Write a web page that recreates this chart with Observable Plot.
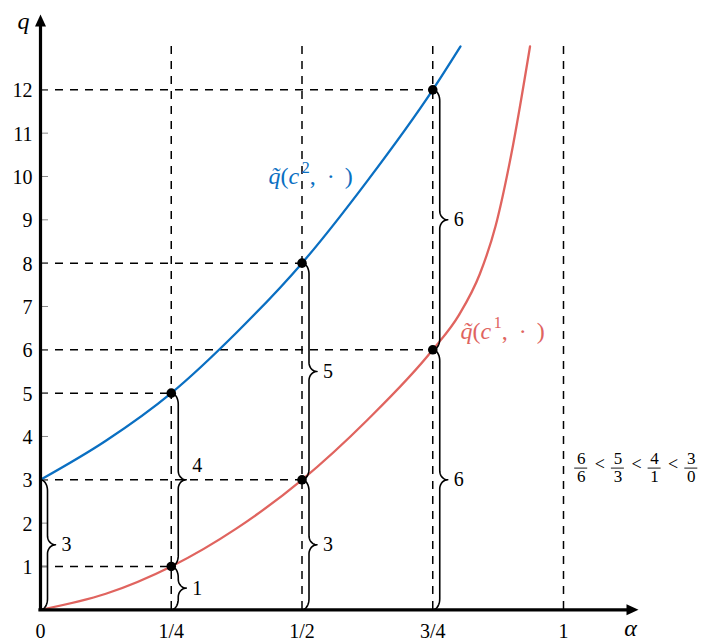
<!DOCTYPE html>
<html>
<head>
<meta charset="utf-8">
<script src="https://cdn.jsdelivr.net/npm/d3@7"></script>
<script src="https://cdn.jsdelivr.net/npm/@observablehq/plot@0.6"></script>
<style>
  html, body { margin: 0; padding: 0; background: #fff; }
  #chart svg { display: block; }
  #chart svg, #chart svg text, #chart svg tspan { font-family: "Liberation Serif" !important; }
</style>
</head>
<body>
<div id="chart"></div>
<script>
// ---------------- data ----------------
const alphaTicks = [0, 0.25, 0.5, 0.75, 1];
const alphaTickLabels = ["0", "1/4", "1/2", "3/4", "1"];
const qTicks = [1, 2, 3, 4, 5, 6, 7, 8, 9, 10, 11, 12];

// q~(c^1, .)  (red)
const redAlpha = [0, 0.125, 0.25, 0.375, 0.5, 0.625, 0.75, 0.8, 0.84, 0.87, 0.9, 0.936];
const redQ     = [0, 0.37, 1, 1.88, 3, 4.38, 6, 6.8, 7.75, 8.85, 10.5, 13];

// q~(c^2, .)  (blue)
const blueAlpha = [0, 0.125, 0.25, 0.375, 0.5, 0.625, 0.75, 0.803];
const blueQ     = [3, 3.9, 5, 6.4, 8, 9.9, 12, 13];

// marked points
const pointAlpha = [0.25, 0.25, 0.5, 0.5, 0.75, 0.75];
const pointQ     = [1, 5, 3, 8, 6, 12];

// vertical guides
const guideAlpha = [0.25, 0.5, 0.75, 1];

// braces
const braceAlpha  = [0, 0.25, 0.25, 0.5, 0.5, 0.75, 0.75];
const braceFrom   = [0, 0, 1, 0, 3, 0, 6];
const braceTo     = [3, 1, 5, 3, 8, 6, 12];
const braceLabels = ["3", "1", "4", "3", "5", "6", "6"];

// curve labels
const curveNames = ["c2", "c1"];
const curveSup   = ["2", "1"];

// inequality 6/6 < 5/3 < 4/1 < 3/0
const fracNum = ["6", "5", "4", "3"];
const fracDen = ["6", "3", "1", "0"];

// ---------------- layout ----------------
const W = 706, H = 643;
const mL = 40, mR = 143, mT = 46, mB = 33.7;
const xMax = 1, yMax = 13;
const PX = (W - mL - mR) / xMax;       // px per alpha unit
const PY = (H - mT - mB) / yMax;       // px per q unit
const ox = px => px / PX;              // pixel offset -> alpha units
const oy = px => px / PY;              // pixel offset -> q units

const BLUE = "#0a6fc2";
const RED = "#e0645f";
const FONT = "Liberation Serif";

const yTip = yMax + oy(32);
const xTip = xMax + ox(75);

const red = redAlpha.map((a, i) => ({a, q: redQ[i]}));
const blue = blueAlpha.map((a, i) => ({a, q: blueQ[i]}));
const points = pointAlpha.map((a, i) => ({a, q: pointQ[i]}));
const braces = braceAlpha.map((a, i) => ({a, q0: braceFrom[i], q1: braceTo[i], label: braceLabels[i], id: i}));

// brace geometry (pixel shape mapped into data units)
const TIP = 15, STEM = 7;
function bracePoints(b) {
  const h = (b.q1 - b.q0) * PY;
  const r = Math.min(11, h / 4), r2 = Math.min(9, h / 4), mid = h / 2;
  const N = 12, half = [];
  for (let i = 0; i <= N; i++) {
    const t = i / N * Math.PI / 2;
    half.push([STEM * Math.sin(t), r * (1 - Math.cos(t))]);
  }
  for (let i = 0; i <= N; i++) {
    const t = i / N * Math.PI / 2;
    half.push([STEM + (TIP - STEM) * (1 - Math.cos(t)), mid - r2 + r2 * Math.sin(t)]);
  }
  const upper = half.slice(0, -1).reverse().map(([v, u]) => [v, h - u]);
  return half.concat(upper).map(([v, u]) => ({x: b.a + ox(v), y: b.q0 + oy(u), id: b.id}));
}
const braceLines = braces.flatMap(bracePoints);
// a brace label is lifted when a horizontal guide runs through its tip
const braceLabelQ = b => {
  const m = (b.q0 + b.q1) / 2;
  const crossed = points.some(p => p.q === m && p.a > b.a);
  return m + (crossed ? oy(14) : 0);
};

// custom filled arrowheads
const arrowUp = {draw(ctx) { ctx.moveTo(0, 0); ctx.lineTo(5.5, 12); ctx.lineTo(-5.5, 12); ctx.closePath(); }};
const arrowRight = {draw(ctx) { ctx.moveTo(0, 0); ctx.lineTo(-12, 5.5); ctx.lineTo(-12, -5.5); ctx.closePath(); }};

// curve label anchors
const curveLabels = [
  {a: ox(268 - mL), q: oy(H - mB - 183), color: BLUE, sup: curveSup[0], name: curveNames[0]},
  {a: ox(460 - mL), q: oy(H - mB - 338), color: RED, sup: curveSup[1], name: curveNames[1]}
];
const labelText = d => `q\u0303(c${d.sup}, \u00b7 )`;

// fractions
const fracBarQ = 3.27;
const fracs = fracNum.map((n, i) => ({a: xMax + ox(17.7 + 36.7 * i), num: n, den: fracDen[i]}));
const lts = [0, 1, 2].map(i => ({a: xMax + ox(36.3 + 36.7 * i)}));

const T = {fontFamily: FONT};

const svg = Plot.plot({
  width: W, height: H,
  marginLeft: mL, marginRight: mR, marginTop: mT, marginBottom: mB,
  x: {domain: [0, xMax], axis: null},
  y: {domain: [0, yMax], axis: null},
  style: {background: "#fff", color: "#000", overflow: "visible", fontFamily: FONT},
  marks: [
    // dashed guides
    Plot.ruleX(guideAlpha, {x: d => d, y1: yMax, y2: 0, stroke: "#000", strokeWidth: 1.5, strokeDasharray: "8,7"}),
    Plot.ruleY(points, {y: "q", x1: 0, x2: "a", stroke: "#000", strokeWidth: 1.5, strokeDasharray: "8,7"}),
    // y ticks
    Plot.ruleY(qTicks, {y: d => d, x1: 0, x2: ox(8), stroke: "#8a8a8a", strokeWidth: 1}),
    Plot.text(qTicks, {...T, x: 0, y: d => d, text: d => String(d), textAnchor: "end", dx: -8, dy: 1, fontSize: 20, lineAnchor: "middle"}),
    // x tick labels
    Plot.text(alphaTicks, {...T, x: d => d, y: 0, text: (d, i) => alphaTickLabels[i], dy: 28, fontSize: 20, lineAnchor: "bottom"}),
    // curves
    Plot.line(red, {x: "a", y: "q", stroke: RED, strokeWidth: 2.3, curve: "monotone-x"}),
    Plot.line(blue, {x: "a", y: "q", stroke: BLUE, strokeWidth: 2.3, curve: "monotone-x"}),
    // braces
    Plot.line(braceLines, {x: "x", y: "y", z: "id", stroke: "#000", strokeWidth: 1.6, curve: "linear"}),
    Plot.text(braces, {...T, x: d => d.a + ox(TIP + 6), y: braceLabelQ, text: "label", textAnchor: "start", fontSize: 20, lineAnchor: "middle"}),
    // axes
    Plot.ruleX([0], {y1: -oy(1.6), y2: yTip - oy(6), stroke: "#000", strokeWidth: 3.2}),
    Plot.ruleY([0], {x1: -ox(1.6), x2: xTip - ox(6), stroke: "#000", strokeWidth: 3.2}),
    Plot.dot([0], {x: 0, y: yTip, symbol: arrowUp, r: 5, fill: "#000", stroke: null}),
    Plot.dot([0], {x: xTip, y: 0, symbol: arrowRight, r: 5, fill: "#000", stroke: null}),
    Plot.text(["q"], {...T, x: 0, y: yTip, text: d => d, dx: -17, dy: 14, fontSize: 24, fontStyle: "italic", lineAnchor: "bottom"}),
    Plot.text(["α"], {...T, x: xTip, y: 0, text: d => d, dx: -8, dy: 26, fontSize: 24, fontStyle: "italic", lineAnchor: "bottom"}),
    // points
    Plot.dot(points, {x: "a", y: "q", r: 4.8, fill: "#000", stroke: null}),
    // curve labels
    Plot.text(curveLabels, {...T, x: "a", y: "q", text: labelText, fill: "color", textAnchor: "start", fontSize: 24, lineAnchor: "bottom"}),
    // inequality of fractions
    Plot.text(fracs, {...T, x: "a", y: fracBarQ, text: "num", dy: -9.5, fontSize: 17, lineAnchor: "middle"}),
    Plot.text(fracs, {...T, x: "a", y: fracBarQ, text: "den", dy: 8.5, fontSize: 17, lineAnchor: "middle"}),
    Plot.ruleY(fracs, {y: fracBarQ, x1: d => d.a - ox(6.5), x2: d => d.a + ox(6.5), stroke: "#000", strokeWidth: 0.9}),
    Plot.text(lts, {...T, x: "a", y: fracBarQ, text: () => "<", dy: -4, fontSize: 18, lineAnchor: "middle"})
  ]
});

// rich formatting of the curve labels: italic q~ and c, superscript index
const NS = "http://www.w3.org/2000/svg";
const labelStrings = curveLabels.map(labelText);
svg.setAttribute("font-family", FONT);
svg.querySelectorAll("text").forEach(node => {
  node.setAttribute("font-family", FONT);
  const i = labelStrings.indexOf(node.textContent);
  if (i < 0) return;
  const lab = curveLabels[i];
  node.textContent = "";
  const parts = [
    {t: "q\u0303", italic: true},
    {t: "(", italic: false},
    {t: "c", italic: true},
    {t: lab.sup, sup: true, dx: 2.5, dy: -11},
    {t: ",", dy: 11},
    {t: "\u00b7", dx: 11},
    {t: ")", dx: 10}
  ];
  parts.forEach(p => {
    const ts = document.createElementNS(NS, "tspan");
    ts.textContent = p.t;
    if (p.italic) ts.setAttribute("font-style", "italic");
    if (p.sup) ts.setAttribute("font-size", "16");
    if (p.dx) ts.setAttribute("dx", p.dx);
    if (p.dy) ts.setAttribute("dy", p.dy);
    node.appendChild(ts);
  });
});

document.getElementById("chart").appendChild(svg);
</script>
</body>
</html>
